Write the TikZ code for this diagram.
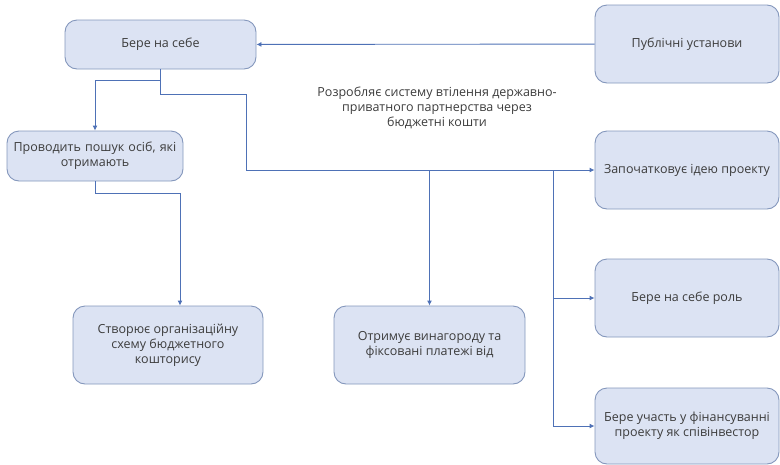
\documentclass[tikz,border=0pt]{standalone}
\usepackage{fontspec}
\setmainfont{Open Sans}
\usetikzlibrary{positioning, arrows.meta, calc}
\usepackage{xcolor}
\definecolor{boxfill}{HTML}{DCE3F3}
\definecolor{boxline}{HTML}{8497BC}
\definecolor{linkblue}{HTML}{4E71B6}
\definecolor{txtgray}{HTML}{3C3C3C}

\begin{document}
\begin{tikzpicture}[
      x=1pt, y=-1pt,
      every node/.style={font=\fontsize{12.5}{15}\selectfont, text=txtgray},
      block/.style={draw=boxline, line width=0.9pt, rounded corners=12pt, fill=boxfill,
                    minimum width=184pt, minimum height=78pt, align=center,
                    inner sep=2pt},
      link/.style={draw=linkblue, line width=0.9pt},
      >={Latex[length=5pt,width=5pt]},
    ]
    \useasboundingbox (0,0) rectangle (780,464);
    % Left column
    \node[block, minimum width=191pt, minimum height=49pt] (bere) at (160.5,44.5) {Бере на себе};
    \node[block, minimum width=176pt, minimum height=50pt, text width=172pt] (poshuk) at (95,156)
      {Проводить пошук осіб, які\\отримають};
    \node[block, minimum width=190pt] (skhema) at (168,345)
      {Створює організаційну\\схему бюджетного\\кошторису};
    % Middle
    \node[block, minimum width=191pt] (vynah) at (429.5,345)
      {Отримує винагороду та\\фіксовані платежі від};
    \node[align=center] (rozrob) at (437,108)
      {Розробляє систему втілення державно-\\приватного партнерства через\\бюджетні кошти};
    % Right column
    \node[block] (publ)   at (687,44)  {Публічні установи};
    \node[block] (ideya)  at (687,170) {Започатковує ідею проекту};
    \node[block] (rol)    at (687,298) {Бере на себе роль};
    \node[block, minimum height=76pt] (uchast) at (687,426)
      {Бере участь у фінансуванні\\проекту як співінвестор};

    \coordinate (turn) at (246,94);
    \coordinate (fork) at (553,170);

    \draw[link, ->] (publ) -- (bere);
    \draw[link, ->] (bere.south) -- ++(0,11) -| (poshuk.north);
    \draw[link, ->] (bere.south) |- (turn) |- (ideya.west);
    \draw[link, ->] (vynah.north |- ideya.west) -- (vynah.north);
    \draw[link, ->] (fork) |- (uchast.west);
    \draw[link, ->] (fork |- rol.west) -- (rol.west);
    \draw[link, ->] (poshuk.south) -- ++(0,12) -| ([xshift=12pt]skhema.north);
  \end{tikzpicture}
\end{document}
